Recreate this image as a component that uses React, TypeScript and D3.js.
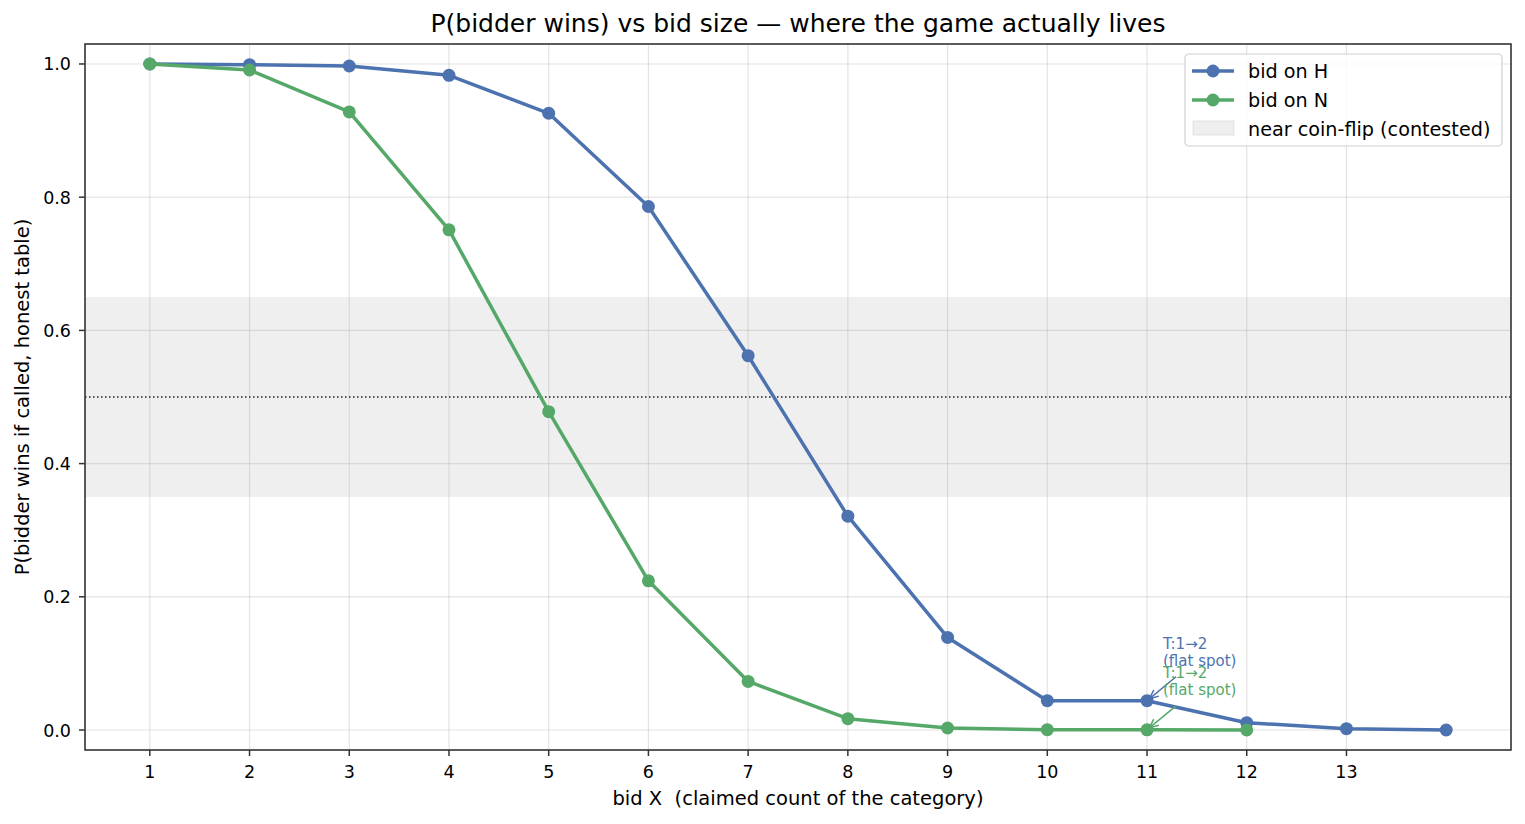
import React from "react";
import * as d3 from "d3";

const bidsH = [1, 2, 3, 4, 5, 6, 7, 8, 9, 10, 11, 12, 13, 14];
const probH = [1.0, 0.999, 0.997, 0.983, 0.926, 0.786, 0.562, 0.321, 0.139, 0.044, 0.044, 0.011, 0.002, 0.0];
const bidsN = [1, 2, 3, 4, 5, 6, 7, 8, 9, 10, 11, 12];
const probN = [1.0, 0.991, 0.928, 0.751, 0.478, 0.224, 0.073, 0.017, 0.003, 0.0005, 0.0003, 0.0001];
const xTicks = [1, 2, 3, 4, 5, 6, 7, 8, 9, 10, 11, 12, 13];
const yTicks = [0.0, 0.2, 0.4, 0.6, 0.8, 1.0];
const band = [0.35, 0.65];
const annoText = ["T:1→2", "(flat spot)"];
const annoBid = 11;

const W = 1525, H = 824;
const L = 85, R = 1511, T = 44, B = 750;
const BLUE = "#4c72b0", GREEN = "#55a868";
const FONT = "'DejaVu Sans', sans-serif";

export default function App() {
  const x = d3.scaleLinear().domain([0.35, 14.65]).range([L, R]);
  const y = d3.scaleLinear().domain([-0.03, 1.03]).range([B, T]);
  const line = d3.line<[number, number]>().x(d => x(d[0])).y(d => y(d[1]));
  const dH: [number, number][] = bidsH.map((b, i) => [b, probH[i]]);
  const dN: [number, number][] = bidsN.map((b, i) => [b, probN[i]]);
  const series = [
    { d: dH, c: BLUE },
    { d: dN, c: GREEN },
  ];
  const annos = [
    { c: BLUE, v: probH[bidsH.indexOf(annoBid)] },
    { c: GREEN, v: probN[bidsN.indexOf(annoBid)] },
  ];
  return (
    <svg width={W} height={H} style={{ position: "absolute", left: 0, top: 0, background: "#fff" }} fontFamily={FONT}>
      <defs>
        <clipPath id="clip"><rect x={L} y={T} width={R - L} height={B - T} /></clipPath>
      </defs>
      <rect x={0} y={0} width={W} height={H} fill="#fff" />
      <rect x={L} y={y(band[1])} width={R - L} height={y(band[0]) - y(band[1])} fill="#bfbfbf" opacity={0.25} />
      {xTicks.map(t => (
        <line key={"gx" + t} x1={x(t)} x2={x(t)} y1={T} y2={B} stroke="#b0b0b0" strokeOpacity={0.35} strokeWidth={1.2} />
      ))}
      {yTicks.map(t => (
        <line key={"gy" + t} x1={L} x2={R} y1={y(t)} y2={y(t)} stroke="#b0b0b0" strokeOpacity={0.35} strokeWidth={1.2} />
      ))}
      <line x1={L} x2={R} y1={y(0.5)} y2={y(0.5)} stroke="#222" strokeWidth={1.3} strokeDasharray="1.5,2.5" />
      <g clipPath="url(#clip)">
        {series.map((s, i) => (
          <g key={i}>
            <path d={line(s.d) || ""} fill="none" stroke={s.c} strokeWidth={3.5} strokeLinejoin="round" />
            {s.d.map((p, j) => (
              <circle key={j} cx={x(p[0])} cy={y(p[1])} r={6.5} fill={s.c} />
            ))}
          </g>
        ))}
      </g>
      {annos.map((a, i) => {
        const px = x(annoBid), py = y(a.v);
        const tx = px + 16, ty = py - 52;
        const sx = px + 29, sy = ty + 28;
        const ang = Math.atan2(py - sy, px - sx);
        const ex = px + 3 * Math.cos(ang + Math.PI), ey = py + 3 * Math.sin(ang + Math.PI);
        const ah = 9, aw = 4;
        const bx = ex - ah * Math.cos(ang), by = ey - ah * Math.sin(ang);
        return (
          <g key={"a" + i}>
            <text x={tx} y={ty} fontSize={15} fill={a.c}>
              <tspan x={tx} dy={0}>{annoText[0]}</tspan>
              <tspan x={tx} dy={17.5}>{annoText[1]}</tspan>
            </text>
            <line x1={sx} y1={sy} x2={ex} y2={ey} stroke={a.c} strokeWidth={1.5} />
            <polyline
              points={`${bx + aw * Math.sin(ang)},${by - aw * Math.cos(ang)} ${ex},${ey} ${bx - aw * Math.sin(ang)},${by + aw * Math.cos(ang)}`}
              fill="none" stroke={a.c} strokeWidth={1.5} />
          </g>
        );
      })}
      <rect x={L} y={T} width={R - L} height={B - T} fill="none" stroke="#333" strokeWidth={1.6} />
      {xTicks.map(t => (
        <g key={"tx" + t}>
          <line x1={x(t)} x2={x(t)} y1={B} y2={B + 6} stroke="#333" strokeWidth={1.5} />
          <text x={x(t)} y={B + 28} fontSize={17.5} textAnchor="middle" fill="#000">{t}</text>
        </g>
      ))}
      {yTicks.map(t => (
        <g key={"ty" + t}>
          <line x1={L - 6} x2={L} y1={y(t)} y2={y(t)} stroke="#333" strokeWidth={1.5} />
          <text x={L - 14} y={y(t) + 6.5} fontSize={17.5} textAnchor="end" fill="#000">{t.toFixed(1)}</text>
        </g>
      ))}
      <text x={(L + R) / 2} y={32} fontSize={25} textAnchor="middle" fill="#000">P(bidder wins) vs bid size — where the game actually lives</text>
      <text x={(L + R) / 2} y={805} fontSize={19.5} textAnchor="middle" fill="#000" style={{ whiteSpace: "pre" }}>bid X  (claimed count of the category)</text>
      <text transform={`translate(29,${(T + B) / 2}) rotate(-90)`} fontSize={19.5} textAnchor="middle" fill="#000">P(bidder wins if called, honest table)</text>
      <g transform="translate(1185,54)">
        <rect x={0} y={0} width={317} height={92} rx={4} fill="#fff" fillOpacity={0.8} stroke="#d0d0d0" strokeWidth={1.2} />
        <line x1={7} x2={49} y1={17} y2={17} stroke={BLUE} strokeWidth={3.5} />
        <circle cx={28} cy={17} r={6.5} fill={BLUE} />
        <text x={63} y={23.5} fontSize={19.2} fill="#000">bid on H</text>
        <line x1={7} x2={49} y1={46} y2={46} stroke={GREEN} strokeWidth={3.5} />
        <circle cx={28} cy={46} r={6.5} fill={GREEN} />
        <text x={63} y={52.5} fontSize={19.2} fill="#000">bid on N</text>
        <rect x={8} y={67} width={41} height={14} fill="#bfbfbf" fillOpacity={0.25} stroke="#bfbfbf" strokeOpacity={0.4} />
        <text x={63} y={81.5} fontSize={19.2} fill="#000">near coin-flip (contested)</text>
      </g>
    </svg>
  );
}
